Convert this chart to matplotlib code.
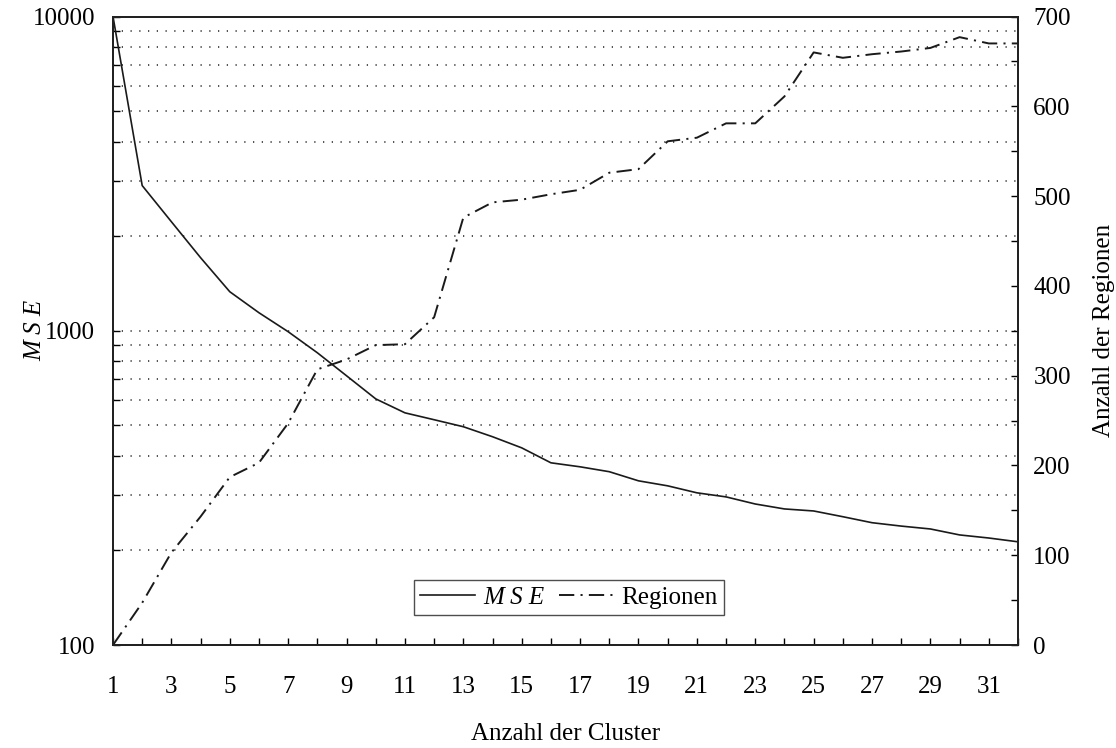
import matplotlib
matplotlib.use("Agg")
import matplotlib.pyplot as plt
from matplotlib.ticker import FixedLocator, NullFormatter

plt.rcParams['font.family'] = ['Liberation Serif', 'DejaVu Serif']
plt.rcParams['lines.scale_dashes'] = False

clusters = list(range(1, 33))
mse = [10000, 2897, 2223, 1708, 1331, 1141, 993, 851, 719, 607, 548, 521,
       495, 460, 424, 380, 369, 356, 333, 321, 305, 296, 281, 271, 267, 256,
       245, 239, 234, 224, 219, 213]
regionen = [0, 47, 103, 143, 187, 203, 247, 307, 318, 334, 335, 365,
            476, 493, 496, 502, 507, 526, 530, 561, 565, 581, 581, 611,
            660, 654, 658, 661, 665, 677, 670, 670]
xtick_labels = [str(v) for v in range(1, 32, 2)]
left_grid = [200, 300, 400, 500, 600, 700, 800, 900, 1000,
             2000, 3000, 4000, 5000, 6000, 7000, 8000, 9000]

W, H = 1116, 748
fig = plt.figure(figsize=(W / 100, H / 100), dpi=100)
ax = fig.add_axes([113 / W, 1 - 645 / H, (1018 - 113) / W, (645 - 16.5) / H])
ax2 = ax.twinx()

FS = 18
lw_spine = 1.4

# left axis
ax.set_yscale('log')
ax.set_ylim(100, 10000)
ax.set_xlim(1, 32)
l1, = ax.plot(clusters, mse, color='#1a1a1a', lw=1.2, label='M S E')
for g in left_grid:
    ax.axhline(g, color='#222222', lw=1.1, linestyle=(0, (0.9, 5.4)), zorder=0.5)
ax.yaxis.set_major_locator(FixedLocator([100, 1000, 10000]))
ax.yaxis.set_minor_locator(FixedLocator(left_grid))
ax.yaxis.set_minor_formatter(NullFormatter())
ax.set_yticklabels(['100', '1000', '10000'])
ax.tick_params(axis='y', which='both', direction='in', length=5, width=1.0,
               labelsize=FS, pad=13)
ax.xaxis.set_major_locator(FixedLocator(list(range(1, 32, 2))))
ax.xaxis.set_minor_locator(FixedLocator(list(range(2, 33, 2))))
ax.set_xticklabels(xtick_labels)
ax.tick_params(axis='x', which='both', direction='in', length=5, width=1.0,
               labelsize=FS, pad=22)

# right axis
r2, = ax2.plot(clusters, regionen, color='#1a1a1a', lw=1.4,
               linestyle=(0, (11, 4.5, 1.5, 4.5)), label='Regionen')
ax2.set_ylim(0, 700)
ax2.yaxis.set_major_locator(FixedLocator(list(range(0, 701, 100))))
ax2.yaxis.set_minor_locator(FixedLocator(list(range(50, 700, 100))))
ax2.tick_params(axis='y', which='both', direction='in', length=5, width=1.0,
                labelsize=FS, pad=11)

for a in (ax, ax2):
    for s in a.spines.values():
        s.set_linewidth(lw_spine)
        s.set_color('#222222')

ax.set_ylabel('M S E', fontsize=FS, style='italic')
ax.yaxis.set_label_coords((35 - 113) / 905, 0.5)
ax.yaxis.label.set_va('center')
ax2.set_ylabel('Anzahl der Regionen', fontsize=FS)
ax2.yaxis.set_label_coords((1104 - 113) / 905, 0.5)
ax2.yaxis.label.set_va('center')
ax.set_xlabel('Anzahl der Cluster', fontsize=FS)
ax.xaxis.set_label_coords((566 - 113) / 905, (645 - 734) / 628.5)
ax.xaxis.label.set_va('center')

leg = ax2.legend([l1, r2], ['M S E', 'Regionen'], loc='center',
                 bbox_to_anchor=(0.504, 0.0756), ncol=2, fontsize=FS,
                 frameon=True, fancybox=False, handlelength=2.2,
                 handletextpad=0.3, columnspacing=0.6, borderpad=0.25,
                 borderaxespad=0)
leg.get_frame().set_edgecolor('#222222')
leg.get_frame().set_linewidth(1.0)
leg.get_texts()[0].set_style('italic')

fig.savefig('out.png', dpi=100)
